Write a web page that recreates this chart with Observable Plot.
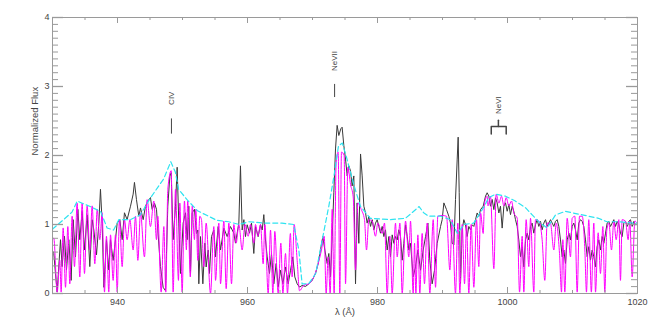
<!DOCTYPE html>
<html><head><meta charset="utf-8">
<script src="https://cdn.jsdelivr.net/npm/d3@7"></script>
<script src="https://cdn.jsdelivr.net/npm/@observablehq/plot@0.6"></script>
<style>body{margin:0;background:#fff} svg{display:block}</style>
</head><body><div id="chart"></div>
<script>
// Observed spectrum [wavelength Å, normalized flux]
const observed = [
[930.0,0.62],[930.2,0.58],[930.46,0.29],[930.72,0.02],[931.23,0.78],[931.48,0.39],[931.84,0.83],[932.15,0.34],[932.51,0.78],[932.87,0.19],[933.18,1.07],[933.54,0.53],[933.9,1.22],[934.2,0.78],[934.56,1.19],[934.92,0.63],[935.33,1.14],[935.74,0.39],[936.1,1.07],[936.36,0.92],[936.77,0.56],[937.13,1.02],[937.38,1.51],[937.64,1.02],[937.9,0.09],[938.3,0.78],[938.66,0.34],[938.92,0.78],[939.33,0.48],[939.69,0.78],[939.95,1.02],[940.36,1.07],[940.72,0.78],[941.07,1.17],[941.48,1.07],[942.0,1.265],[942.41,1.44],[942.61,1.61],[942.92,1.36],[943.28,1.12],[943.54,1.24],[943.95,1.07],[944.3,1.265],[944.67,1.34],[945.07,1.39],[945.33,1.22],[945.69,1.31],[946.0,1.22],[946.2,0.92],[946.61,0.39],[947.02,0.09],[947.38,0.04],[947.74,1.265],[948.05,1.70],[948.26,1.75],[948.56,0.78],[948.92,1.265],[949.18,1.83],[949.43,1.02],[949.69,0.29],[950.1,1.02],[950.46,1.17],[950.72,0.78],[950.97,1.265],[951.23,0.29],[951.49,1.17],[951.84,1.22],[952.15,0.87],[952.36,0.92],[952.51,0.14],
[952.77,0.825],[953.13,0.14],[953.44,0.73],[953.64,0.385],[953.95,0.63],[954.15,0.29],[954.46,0.825],[954.82,0.92],[955.08,0.53],[955.49,0.97],[955.85,0.63],[956.36,0.947],[956.87,0.825],[957.38,0.97],[957.9,0.874],[958.15,0.73],[958.41,0.874],[958.67,1.02],[958.92,1.85],[959.18,0.92],[959.44,1.07],[959.69,0.825],[959.95,0.996],[960.31,0.874],[960.62,1.02],[960.97,0.58],[961.23,0.97],[961.64,0.825],[962.0,0.996],[962.26,0.92],[962.51,1.143],[962.77,0.776],[963.03,0.53],[963.38,0.29],[963.69,0.58],[964.05,0.14],[964.41,0.434],[964.72,0.093],[965.08,0.337],[965.44,0.14],[965.85,0.385],[966.26,0.14],[966.62,0.337],[966.97,0.53],[967.28,0.24],[967.64,0.14],[968.0,0.093],[968.41,0.117],[968.92,0.102],[969.44,0.14],[969.95,0.19],[970.46,0.29],[970.87,0.434],[971.23,0.63],[971.59,0.825],[971.9,0.63],[972.26,0.434],[972.51,0.58],[972.77,0.24],[973.03,0.825],[973.28,1.46],[973.54,2.095],[973.79,2.437],[974.05,2.29],[974.36,2.388],[974.56,2.41],
[974.82,2.144],[975.08,1.948],[975.34,1.704],[975.59,1.85],[975.85,1.777],[976.1,1.558],[976.36,1.704],[976.62,0.14],[976.87,1.313],[977.13,0.727],[977.39,2.022],[977.64,1.704],[977.9,1.265],[978.16,1.167],[978.41,1.02],[978.67,1.118],[978.93,0.972],[979.18,1.07],[979.44,0.923],[979.69,1.02],[979.95,1.07],[980.21,0.972],[980.46,0.874],[980.72,0.972],[980.98,0.825],[981.23,0.923],[981.49,0.63],[981.75,0.825],[982.0,0.532],[982.26,0.85],[982.52,0.727],[982.77,0.825],[983.03,0.776],[983.28,0.923],[983.54,0.825],[983.8,0.483],[984.05,0.727],[984.31,0.996],[984.57,0.825],[984.82,0.63],[985.08,0.727],[985.49,0.239],[985.85,0.386],[986.21,0.63],[986.62,0.337],[987.03,0.63],[987.39,0.825],[987.75,1.02],[988.05,0.483],[988.41,0.14],[988.77,0.337],[989.18,0.727],[989.7,0.972],[989.95,1.07],[990.21,1.313],[990.62,1.216],[990.98,1.118],[991.23,1.02],[991.49,0.727],[991.75,0.703],[992.0,1.362],[992.26,1.948],[992.41,2.266],[992.57,1.46],[992.77,0.14],[993.03,0.923],[993.28,1.07],[993.54,0.996],[993.8,0.825],[994.05,0.972],[994.31,0.923],[994.57,0.996],[994.82,0.972],[995.08,1.07],[995.33,1.167],[995.59,1.118],[995.85,1.216],[996.26,1.265],[996.62,1.411],[996.87,1.46],
[997.13,1.412],[997.38,1.265],[997.64,1.363],[997.9,1.216],[998.15,1.387],[998.41,1.314],[998.67,1.167],[998.92,1.265],[999.18,0.948],[999.44,1.265],[999.69,1.314],[999.95,1.192],[1000.21,1.29],[1000.46,1.143],[1000.72,1.265],[1000.97,1.192],[1001.23,1.07],[1001.49,0.972],[1001.74,0.777],[1002.0,0.533],[1002.26,0.679],[1002.51,0.386],[1002.77,0.777],[1003.03,0.875],[1003.28,0.777],[1003.54,0.972],[1003.79,1.021],[1004.05,0.875],[1004.31,0.997],[1004.56,1.07],[1004.82,0.972],[1005.08,1.045],[1005.33,0.923],[1005.59,1.021],[1005.85,1.07],[1006.1,0.972],[1006.36,1.021],[1006.62,1.07],[1006.87,1.021],[1007.13,0.972],[1007.38,1.045],[1007.64,1.07],[1007.9,0.972],[1008.15,0.777],[1008.41,0.533],[1008.67,0.63],[1008.92,0.435],[1009.18,0.777],[1009.44,0.875],[1009.69,0.777],[1009.95,0.972],[1010.2,1.021],[1010.46,0.923],[1010.72,0.777],[1010.97,1.021],[1011.23,1.07],[1011.49,1.045],[1011.74,0.972],[1012.0,0.777],[1012.26,0.533],[1012.51,0.679],[1012.77,0.484],[1013.03,0.63],[1013.28,0.533],[1013.54,0.386],[1013.79,0.679],[1014.05,0.777],[1014.31,0.63],[1014.56,0.826],[1014.82,0.728],[1015.08,0.875],[1015.33,1.021],[1015.59,1.045],[1015.85,0.972],[1016.1,1.021],[1016.36,1.07],[1016.62,0.972],[1016.87,1.045],[1017.13,0.997],[1017.38,0.875],[1017.64,0.826],[1017.9,1.021],[1018.15,1.045],[1018.41,0.972],[1018.67,1.045],[1018.92,1.07],[1019.18,0.972],[1019.44,1.045],[1019.69,0.997],[1019.95,1.0]
];

// Synthetic model spectrum with absorption lines
const model = [
[930.0,0.80],[930.2,0.80],[930.72,0.02],[931.13,0.48],[931.33,0.02],[931.64,0.95],[932.0,0.09],[932.36,0.97],[932.66,0.14],[933.02,1.12],[933.38,0.39],[933.79,1.31],[934.2,0.24],[934.56,1.31],[934.92,0.29],[935.33,1.27],[935.74,0.63],[936.1,1.27],[936.51,0.43],[936.87,1.22],[937.28,0.78],[937.64,1.17],[938.0,0.02],[938.3,0.83],[938.66,0.02],[938.92,0.85],[939.33,0.19],[939.69,0.85],[939.95,0.02],[940.3,1.07],[940.72,0.39],[941.07,1.07],[941.48,0.78],[941.9,1.07],[942.41,0.63],[942.77,1.12],[943.13,0.48],[943.54,1.17],[944.15,0.53],[944.56,1.36],[945.07,0.97],[945.59,1.34],[946.0,0.78],[946.2,1.12],[946.72,0.02],[947.13,0.97],[947.43,0.02],[947.74,1.51],[948.26,1.78],[948.56,0.02],[948.92,1.51],[949.38,0.19],[949.59,1.31],[949.95,0.02],[950.3,1.34],[950.6,0.63],[950.8,1.34],[951.2,0.24],[951.5,1.27],[951.84,0.78],[952.05,1.22],[952.36,0.48],[952.66,1.12],
[952.92,1.07],[953.28,0.39],[953.64,1.02],[954.31,0.0],[954.82,0.97],[955.08,0.19],[955.59,1.02],[955.85,0.14],[956.36,1.05],[956.72,0.07],[957.13,1.02],[957.54,0.14],[957.9,1.0],[958.26,0.73],[958.67,1.0],[959.18,0.63],[959.6,1.0],[960.1,0.83],[960.46,1.0],[960.97,0.73],[961.23,1.0],[961.6,0.83],[962.0,1.0],[962.41,0.43],[962.67,1.0],[963.18,0.0],[963.54,0.92],[963.9,0.0],[964.2,0.9],[964.72,0.0],[965.13,0.73],[965.44,0.0],[965.85,0.58],[966.15,0.0],[966.6,0.87],[966.87,0.24],[967.18,1.0],[967.64,0.48],[968.0,0.04],[968.67,0.12],[969.44,0.14],[970.2,0.24],[970.87,0.43],[971.38,0.63],[971.8,0.83],[972.1,0.0],[972.41,0.53],[972.72,0.0],[973.03,1.22],[973.33,0.0],[973.64,1.90],[973.95,2.05],[974.2,0.0],[974.46,2.05],[974.87,2.0],
[975.08,0.14],[975.44,1.83],[975.85,1.58],[976.26,1.40],[976.62,0.34],[976.98,1.31],[977.49,1.22],[978.0,1.07],[978.31,0.63],[978.67,1.07],[979.18,1.05],[979.69,0.83],[980.05,1.02],[980.72,0.87],[981.08,1.02],[981.49,0.0],[981.9,0.83],[982.26,0.0],[982.77,1.02],[983.03,0.53],[983.44,1.02],[983.8,0.0],[984.31,1.05],[984.82,0.53],[985.08,1.05],[985.49,0.0],[985.7,0.73],[985.9,0.0],[986.21,0.85],[986.51,0.0],[986.87,0.87],[987.23,0.14],[987.64,1.02],[988.05,0.0],[988.57,1.07],[988.93,0.09],[989.28,1.12],[989.95,1.13],[990.62,1.12],[991.13,0.34],[991.49,1.07],[992.0,0.0],[992.36,1.02],[992.67,0.0],[993.03,1.0],[993.39,0.14],[993.7,1.0],[994.05,0.0],[994.41,1.0],[994.82,0.09],[995.23,1.07],[995.59,0.39],[995.85,1.17],[996.26,0.87],[996.46,1.31],[996.87,1.41],
[997.0,1.27],[997.38,1.41],[997.9,0.36],[998.26,1.44],[998.67,1.31],[999.08,1.41],[999.44,1.27],[999.8,1.39],[1000.2,1.27],[1000.62,1.34],[1000.97,1.17],[1001.5,1.09],[1001.85,0.02],[1002.26,0.83],[1002.51,0.02],[1002.87,1.07],[1003.28,0.39],[1003.54,1.09],[1004.05,0.02],[1004.3,1.07],[1004.82,1.05],[1005.33,0.78],[1005.74,0.19],[1006.1,1.02],[1006.6,1.02],[1007.13,0.63],[1007.49,1.02],[1008.0,0.58],[1008.31,0.02],[1008.51,0.78],[1008.82,0.02],[1009.18,1.09],[1009.69,0.53],[1009.95,1.09],[1010.36,1.12],[1010.72,0.02],[1011.08,1.12],[1011.5,1.12],[1011.9,0.63],[1012.15,0.02],[1012.5,1.07],[1012.9,0.02],[1013.28,1.02],[1013.54,0.02],[1013.95,0.88],[1014.3,0.29],[1014.67,0.97],[1014.97,0.02],[1015.28,0.92],[1015.6,1.02],[1016.0,0.63],[1016.36,1.05],[1016.72,0.78],[1017.13,1.07],[1017.38,0.19],[1017.64,1.07],[1018.15,1.05],[1018.56,0.78],[1018.82,1.05],[1019.18,0.24],[1019.59,1.05],[1019.95,1.02]
];

// Model continuum (dashed cyan)
const continuum = [
[930.0,0.93],[930.2,0.95],[931.7,1.07],[933.0,1.18],[933.8,1.34],[935.8,1.26],[937.4,1.19],[938.4,0.95],[939.4,0.92],[940.2,1.07],[942.0,1.07],[943.5,1.14],[945.1,1.39],[947.1,1.66],[948.2,1.91],[948.9,1.76],[949.4,1.51],[950.7,1.36],[952.3,1.2],[954.0,1.12],[955.3,1.06],[957.1,1.04],[958.7,1.0],[960.2,1.04],[962.8,1.02],[965.3,1.02],[967.1,1.0],[967.9,0.63],[968.4,0.14],[969.4,0.14],[970.5,0.29],[971.5,0.78],[972.5,1.26],[973.3,1.7],[974.0,2.14],[974.6,2.18],[975.3,1.95],[976.4,1.56],[977.4,1.26],[978.9,1.09],[982.0,1.07],[984.3,1.09],[985.3,1.17],[986.4,1.26],[987.1,1.17],[987.9,1.12],[989.7,1.12],[991.2,1.07],[992.3,0.87],[993.3,1.0],[994.8,1.02],[996.4,1.26],[997.1,1.39],[998.2,1.44],[999.7,1.41],[1001.2,1.34],[1002.8,1.24],[1003.8,1.14],[1004.8,1.04],[1006.1,0.95],[1007.4,1.14],[1008.9,1.19],[1011.5,1.14],[1014.0,1.09],[1015.3,1.04],[1017.1,1.04],[1019.4,1.02],[1020.0,1.02]
];

// Axis ticks and labels
const xMajorTicks = [940, 960, 980, 1000, 1020];
const xMinorTicks = d3.range(930, 1020.1, 5);
const yMajorTicks = [0, 1, 2, 3, 4];
const yMinorTicks = d3.range(0, 4.001, 0.1);
const xTitle = "λ (Å)";
const yTitle = "Normalized Flux";

// Ion identifications
const ionLabels = ["CIV", "NeVII", "NeVI"];
const ionLabelX = [948.3, 973.4, 998.6];
const ionLabelY = [2.83, 3.37, 2.73];
const ionTickX = [948.3, 973.4];
const ionTickY1 = [2.31, 2.84];
const ionTickY2 = [2.53, 3.03];
const neviBracket = [[997.5,2.31],[997.5,2.42],[999.8,2.42],[999.8,2.31]];
const neviStem = [[998.6,2.42],[998.6,2.51]];

const W = 653, H = 327, mL = 52, mR = 16, mT = 17, mB = 34;
const iW = W - mL - mR, iH = H - mT - mB;
const axisColor = "#9a9a9a";
const px = d => d[0], py = d => d[1];

const chart = Plot.plot({
  width: W, height: H,
  marginLeft: mL, marginRight: mR, marginTop: mT, marginBottom: mB,
  style: {fontFamily: "'Liberation Sans', Arial, sans-serif", fontSize: "9px", color: "#444", background: "#fff"},
  x: {domain: [930, 1020]},
  y: {domain: [0, 4]},
  marks: [
    Plot.line(observed, {x: px, y: py, stroke: "#3a3a3a", strokeWidth: 1, clip: true}),
    Plot.line(model, {x: px, y: py, stroke: "#ff00ff", strokeWidth: 1, curve: "monotone-x", clip: true}),
    Plot.line(continuum, {x: px, y: py, stroke: "#2ee3f0", strokeWidth: 1.2, strokeDasharray: "5,3", clip: true}),
    Plot.frame({stroke: axisColor}),
    // inward ticks: bottom & top
    Plot.ruleX(xMajorTicks, {insetTop: iH - 6, stroke: axisColor}),
    Plot.ruleX(xMinorTicks, {insetTop: iH - 3, stroke: axisColor}),
    Plot.ruleX(xMajorTicks, {insetBottom: iH - 6, stroke: axisColor}),
    Plot.ruleX(xMinorTicks, {insetBottom: iH - 3, stroke: axisColor}),
    // inward ticks: left & right
    Plot.ruleY(yMajorTicks, {insetRight: iW - 11, stroke: axisColor, strokeWidth: 1.3}),
    Plot.ruleY(yMinorTicks, {insetRight: iW - 6, stroke: axisColor}),
    Plot.ruleY(yMajorTicks, {insetLeft: iW - 11, stroke: axisColor, strokeWidth: 1.3}),
    Plot.ruleY(yMinorTicks, {insetLeft: iW - 6, stroke: axisColor}),
    Plot.axisX({ticks: xMajorTicks, tickSize: 0, tickPadding: 5, tickFormat: d => String(d), label: null, anchor: "bottom"}),
    Plot.axisY({ticks: yMajorTicks, tickSize: 0, tickPadding: 3, tickFormat: d => String(d), label: null, anchor: "left"}),
    Plot.text([xTitle], {frameAnchor: "bottom", dy: 21, fontSize: 9.5}),
    Plot.text([yTitle], {frameAnchor: "left", rotate: -90, dx: -18, fontSize: 9.5}),
    // ion identifications
    Plot.text(ionLabels, {x: (d, i) => ionLabelX[i], y: (d, i) => ionLabelY[i], rotate: -90, fontSize: 8, fill: "#444"}),
    Plot.ruleX(ionTickX, {x: d => d, y1: (d, i) => ionTickY1[i], y2: (d, i) => ionTickY2[i], stroke: "#444"}),
    Plot.line(neviBracket, {x: px, y: py, stroke: "#444"}),
    Plot.line(neviStem, {x: px, y: py, stroke: "#444"})
  ]
});
document.getElementById("chart").appendChild(chart);
</script>
</body></html>
